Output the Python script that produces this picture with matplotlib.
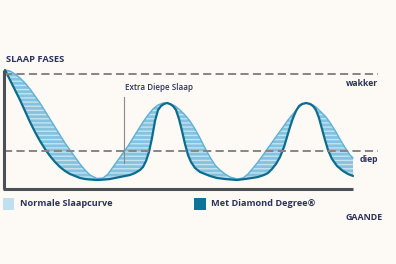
import matplotlib
matplotlib.use("Agg")
import matplotlib.pyplot as plt
import matplotlib as mpl
import numpy as np

# ---- data (pixel-like coordinates: x right, y down) ----
dark_x = [5, 10, 15, 20, 25, 30, 35, 40, 45, 50, 55, 60, 65, 70, 75, 80, 85, 90, 97,
          105, 110, 115, 120, 125, 130, 135, 140, 143, 146, 149, 152, 155, 158, 161, 164,
          167, 170, 173, 176, 179, 182, 185, 188, 191, 195, 200, 205, 210, 217, 225, 237,
          245, 252, 258, 264, 268, 272, 276, 280, 284, 287, 290, 293, 296, 299, 302, 306,
          310, 313, 316, 319, 322, 325, 328, 332, 337, 343, 348, 353]
dark_y = [70, 80, 90, 100, 111, 122, 132, 141, 149, 156, 162, 167, 171, 174, 176, 178, 179, 179.5, 180,
          179.5, 179, 178, 177, 176, 175, 173, 170, 167, 161, 152, 138, 121, 110, 106, 104,
          103, 104, 106, 110, 119, 131, 144, 155, 162, 168, 172, 174, 176, 178, 179, 180,
          179, 178, 177, 175, 173, 169, 164, 157, 147, 137, 127, 118, 111, 106, 104, 103,
          104, 106, 110, 118, 129, 140, 150, 159, 166, 171, 174, 176]

light_x = [5, 10, 15, 20, 25, 30, 35, 40, 45, 50, 55, 60, 65, 70, 75, 80, 85, 90, 97,
           103, 108, 113, 118, 123, 128, 133, 138, 143, 148, 153, 158, 163, 167, 171, 175,
           180, 185, 190, 195, 200, 205, 210, 215, 220, 225, 230, 237, 243, 248, 253, 258,
           263, 268, 273, 278, 283, 288, 293, 298, 303, 307, 311, 316, 321, 326, 331, 336,
           341, 346, 350, 353]
light_y = [70, 71, 74, 78, 83, 89, 96, 103, 111, 119, 127, 135, 143, 150, 157, 164, 170, 175, 178.5,
           178, 174, 167, 160, 153, 146, 138, 130, 122, 115, 109, 105, 103, 103, 104, 106,
           110, 115, 121, 129, 138, 148, 157, 165, 170, 174, 177, 179, 178, 174, 168, 162,
           155, 148, 141, 134, 127, 120, 114, 108, 104, 103, 104, 107, 112, 117, 124, 132,
           141, 149, 155, 158]

levels = {"wakker": 74, "diep": 151}
legend_labels = ["Normale Slaapcurve", "Met Diamond Degree®"]
title_y = "SLAAP FASES"
title_x = "GAANDE"
annotation = "Extra Diepe Slaap"

# ---- styling ----
BG = "#fdf9f5"
NAVY = "#2b3259"
FILL = "#84c2df"
HATCH = "#c4e4f2"
DARK = "#0d6c8c"
EDGE = "#5fb0d4"
FONT = ["Open Sans", "DejaVu Sans"]
mpl.rcParams["hatch.color"] = HATCH
mpl.rcParams["hatch.linewidth"] = 1.0

fig = plt.figure(figsize=(3.96, 2.64), dpi=100, facecolor=BG)
ax = fig.add_axes([0, 0, 1, 1])
ax.set_facecolor(BG)
ax.set_xlim(0, 396)
ax.set_ylim(264, 0)
ax.axis("off")

# band between the two curves
allx = np.unique(np.concatenate([dark_x, light_x])).astype(float)
dy = np.interp(allx, dark_x, dark_y)
lyy = np.interp(allx, light_x, light_y)
ax.fill_between(allx, dy, lyy, facecolor=FILL, edgecolor=HATCH, hatch="----",
                linewidth=0, zorder=2)
ax.plot(light_x, light_y, color=EDGE, lw=1.0, zorder=3, solid_capstyle="round",
        solid_joinstyle="round")
ax.plot(dark_x, dark_y, color=DARK, lw=1.6, zorder=4, solid_capstyle="round",
        solid_joinstyle="round")

# dashed level lines
for name, yv in levels.items():
    ax.plot([4, 378], [yv, yv], color="#858585", lw=1.4, dashes=(4.2, 2.2), zorder=5)
ax.text(378, 83, "wakker", ha="right", va="center", fontsize=6.2, fontweight="bold",
        color=NAVY, family=FONT)
ax.text(378, 159, "diep", ha="right", va="center", fontsize=6.2, fontweight="bold",
        color=NAVY, family=FONT)

# axes lines
ax.plot([4, 4], [70, 189], color="#4b5056", lw=2.2, solid_capstyle="butt", zorder=6)
ax.plot([3, 353], [189, 189], color="#4b5056", lw=2.2, solid_capstyle="butt", zorder=6)

# annotation
ax.plot([124, 124], [97, 163], color="#8a8a8a", lw=0.8, zorder=6)
ax.text(125, 88, annotation, ha="left", va="center", fontsize=5.8, fontweight="semibold",
        color=NAVY, family=FONT)

ax.text(6, 59, title_y, ha="left", va="center", fontsize=6.7, fontweight="bold",
        color=NAVY, family=FONT)
ax.text(383, 217, title_x, ha="right", va="center", fontsize=6.4, fontweight="bold",
        color=NAVY, family=FONT)

# legend
ax.add_patch(plt.Rectangle((3, 198), 11, 12, facecolor="#c0e0f1", edgecolor="none"))
ax.text(20, 204, legend_labels[0], ha="left", va="center", fontsize=6.6, fontweight="bold",
        color=NAVY, family=FONT)
ax.add_patch(plt.Rectangle((194, 198), 12, 12, facecolor="#0e7497", edgecolor="none"))
ax.text(211, 204, legend_labels[1], ha="left", va="center", fontsize=6.6, fontweight="bold",
        color=NAVY, family=FONT)

fig.savefig("out.png", dpi=100, facecolor=BG)
